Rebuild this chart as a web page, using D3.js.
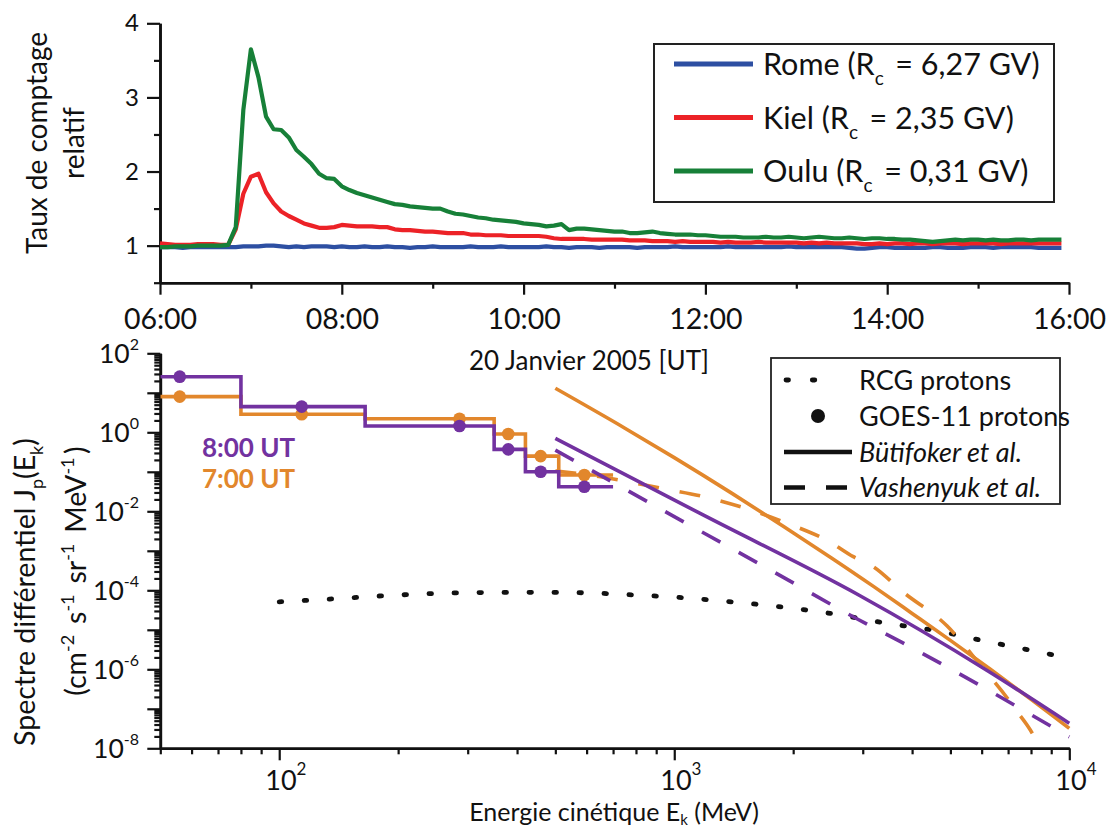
<!DOCTYPE html>
<html>
<head>
<meta charset="utf-8">
<script src="https://cdn.jsdelivr.net/npm/d3@7"></script>
<style>
  body { margin: 0; background: #fff; }
  svg { display: block; }
  text { font-family: Lato, "Open Sans", sans-serif; fill: #111; }
</style>
</head>
<body>
<svg id="chart" width="1108" height="830"></svg>
<script>
// ---------- Neutron monitor relative count rates, 5-minute samples from 06:00 UT ----------
const sampleStartHour = 6;
const sampleStepMinutes = 5;

const romeCounts = [
  0.98,0.98,0.98,0.97,0.98,0.98,0.98,0.98,0.98,0.98,
  0.98,0.99,0.99,0.99,1.00,1.00,0.99,0.98,0.99,0.98,
  0.99,0.99,0.99,0.98,0.99,0.98,0.98,0.99,0.98,0.98,
  0.99,0.98,0.98,0.97,0.98,0.98,0.99,0.98,0.98,0.98,
  0.98,0.99,0.98,0.98,0.98,0.99,0.98,0.98,0.98,0.98,
  0.98,0.99,0.98,0.98,0.97,0.98,0.98,0.98,0.97,0.98,
  0.98,0.98,0.98,0.97,0.98,0.98,0.98,0.98,0.99,0.98,
  0.98,0.98,0.98,0.98,0.98,0.99,0.98,0.98,0.98,0.98,
  0.98,0.98,0.98,0.99,0.98,0.98,0.98,0.98,0.98,0.98,
  0.98,0.97,0.96,0.96,0.97,0.98,0.98,0.97,0.97,0.97,
  0.97,0.97,0.98,0.98,0.97,0.97,0.97,0.98,0.98,0.98,
  0.97,0.98,0.98,0.98,0.98,0.98,0.97,0.97,0.97,0.97
];
const kielCounts = [
  1.03,1.02,1.01,1.01,1.01,1.02,1.02,1.02,1.01,1.01,
  1.22,1.70,1.93,1.97,1.72,1.57,1.46,1.40,1.35,1.30,
  1.27,1.24,1.24,1.25,1.28,1.27,1.26,1.26,1.26,1.25,
  1.25,1.22,1.21,1.21,1.20,1.19,1.19,1.18,1.17,1.17,
  1.17,1.15,1.15,1.14,1.14,1.14,1.13,1.13,1.13,1.13,
  1.13,1.12,1.10,1.09,1.09,1.09,1.09,1.08,1.08,1.08,
  1.08,1.08,1.07,1.07,1.07,1.06,1.06,1.06,1.05,1.06,
  1.05,1.05,1.05,1.05,1.04,1.05,1.04,1.04,1.04,1.05,
  1.04,1.04,1.04,1.04,1.04,1.03,1.04,1.03,1.04,1.03,
  1.03,1.03,1.03,1.02,1.02,1.03,1.02,1.03,1.03,1.02,
  1.03,1.03,1.02,1.03,1.03,1.03,1.02,1.03,1.03,1.03,
  1.03,1.02,1.03,1.03,1.03,1.03,1.03,1.03,1.03,1.03
];
const ouluCounts = [
  0.98,0.98,0.99,0.99,0.99,1.00,1.00,1.00,1.00,1.01,
  1.25,2.83,3.65,3.27,2.74,2.57,2.56,2.46,2.29,2.20,
  2.10,1.97,1.91,1.90,1.80,1.75,1.71,1.68,1.65,1.62,
  1.59,1.56,1.55,1.53,1.52,1.51,1.50,1.50,1.46,1.43,
  1.42,1.40,1.38,1.37,1.35,1.34,1.33,1.32,1.30,1.29,
  1.28,1.26,1.27,1.29,1.21,1.23,1.23,1.22,1.21,1.20,
  1.19,1.19,1.17,1.17,1.18,1.19,1.17,1.16,1.15,1.15,
  1.15,1.14,1.14,1.13,1.12,1.12,1.12,1.11,1.11,1.11,
  1.12,1.11,1.11,1.12,1.11,1.10,1.11,1.12,1.11,1.10,
  1.10,1.11,1.10,1.09,1.10,1.10,1.09,1.09,1.08,1.08,
  1.07,1.06,1.05,1.06,1.07,1.08,1.07,1.08,1.08,1.07,
  1.08,1.07,1.07,1.08,1.08,1.07,1.08,1.08,1.08,1.08
];
const stationNames = ["Rome", "Kiel", "Oulu"];
const stationCutoffs = ["6,27", "2,35", "0,31"];
const stationColors = ["#2d4fa2", "#ec2227", "#178038"];
const hourTicks = [6, 7, 8, 9, 10, 11, 12, 13, 14, 15, 16];
const countTicks = [1, 2, 3, 4];
const countMinorTicks = [0.5, 1.5, 2.5, 3.5];

// ---------- Differential proton spectra, 20 January 2005 ----------
// GOES-11 channel edges (MeV), channel mean energies and fluxes
const goesEdges = [50, 80, 165, 350, 420, 510, 700];
const goesEnergy = [56, 114, 286, 380, 459, 592];
const goesFlux0700 = [8.0, 2.86, 2.2, 0.906, 0.25, 0.083];
const goesFlux0800 = [25.6, 4.46, 1.44, 0.37, 0.10, 0.042];

// Galactic cosmic ray protons
const rcgEnergy = [100, 130, 200, 300, 450, 600, 800, 1050, 1400, 1900, 2550, 3400, 4600, 6100, 8300, 10000];
const rcgFlux = [5.1e-5, 5.9e-5, 7.6e-5, 8.7e-5, 8.9e-5, 8.6e-5, 7.6e-5, 6.5e-5, 5.1e-5, 3.7e-5, 2.5e-5, 1.5e-5, 9.5e-6, 5.2e-6, 2.8e-6, 1.9e-6];

// Bütifoker et al. spectra
const butiEnergy0700 = [500, 750, 1000, 1400, 1900, 2500, 3200, 4000, 5000, 6300, 8000, 10000];
const butiFlux0700 = [13, 1.27, 0.228, 0.0284, 4.0e-3, 6.6e-4, 1.24e-4, 2.6e-5, 5.4e-6, 1.02e-6, 1.74e-7, 3.2e-8];
const butiEnergy0800 = [500, 1210, 2930, 6180, 10000];
const butiFlux0800 = [0.70, 7.2e-3, 7.6e-5, 9.5e-7, 4.3e-8];

// Vashenyuk et al. spectra
const vashEnergy0700 = [500, 645, 930, 1190, 1510, 1930, 2470, 2840, 3185, 3800, 4900, 5930, 7240, 8320, 8700];
const vashFlux0700 = [0.105, 0.076, 0.038, 0.0234, 0.012, 5.0e-3, 1.7e-3, 7.1e-4, 4.0e-4, 8.9e-5, 1.26e-5, 1.35e-6, 1.1e-7, 1.26e-8, 4e-9];
const vashEnergy0800 = [500, 860, 1800, 2930, 3770, 10000];
const vashFlux0800 = [0.355, 0.017, 2.8e-4, 1.8e-5, 4.8e-6, 1.95e-8];

const purple = "#7232a0";
const orange = "#e2872c";

const svg = d3.select("#chart");

// ======================= Top panel: count rates =======================
const xTime = d3.scaleLinear().domain([6, 16]).range([160, 1069]);
const yCount = d3.scaleLinear().domain([0.5, 4]).range([282.7, 23.3]);

const topPanel = svg.append("g");

function styleAxis(g, fontSize) {
  g.select(".domain").attr("stroke", "#111").attr("stroke-width", 2.6);
  g.selectAll(".tick line").attr("stroke", "#111").attr("stroke-width", 2.2);
  g.selectAll(".tick text").attr("fill", "#111").style("font-size", fontSize + "px")
    .style("font-family", "Lato, 'Open Sans', sans-serif");
}

// x axis (hours)
topPanel.append("g")
  .attr("transform", "translate(0,282.7)")
  .call(d3.axisBottom(xTime).tickValues(hourTicks.filter(h => h % 2 === 1)).tickSize(6).tickSizeOuter(0).tickFormat(""))
  .call(g => styleAxis(g, 28.5));
topPanel.append("g")
  .attr("transform", "translate(0,282.7)")
  .call(d3.axisBottom(xTime).tickValues(hourTicks.filter(h => h % 2 === 0)).tickSize(12).tickSizeOuter(0).tickPadding(14)
    .tickFormat(h => String(h).padStart(2, "0") + ":00"))
  .call(g => styleAxis(g, 28.5));

// y axis (relative rate)
topPanel.append("g")
  .attr("transform", "translate(160,0)")
  .call(d3.axisLeft(yCount).tickValues(countMinorTicks).tickSize(6).tickSizeOuter(0).tickFormat(""))
  .call(g => styleAxis(g, 24));
topPanel.append("g")
  .attr("transform", "translate(160,0)")
  .call(d3.axisLeft(yCount).tickValues(countTicks).tickSize(13).tickSizeOuter(0).tickPadding(8).tickFormat(d3.format("d")))
  .call(g => styleAxis(g, 24));

// y axis title
topPanel.append("text")
  .attr("transform", "translate(47,143) rotate(-90)")
  .attr("text-anchor", "middle")
  .style("font-size", "28px")
  .text("Taux de comptage");
topPanel.append("text")
  .attr("transform", "translate(84,143) rotate(-90)")
  .attr("text-anchor", "middle")
  .style("font-size", "28px")
  .text("relatif");

// station curves
const countLine = d3.line()
  .x((d, i) => xTime(sampleStartHour + i * sampleStepMinutes / 60))
  .y(d => yCount(d));
const stationSeries = [romeCounts, kielCounts, ouluCounts];
[0, 1, 2].forEach(k => {
  topPanel.append("path")
    .datum(stationSeries[k])
    .attr("fill", "none")
    .attr("stroke", stationColors[k])
    .attr("stroke-width", 4.2)
    .attr("stroke-linejoin", "round")
    .attr("d", countLine);
});

// legend
const legTop = topPanel.append("g");
legTop.append("rect")
  .attr("x", 654).attr("y", 44).attr("width", 400).attr("height", 158)
  .attr("fill", "#fff").attr("stroke", "#222").attr("stroke-width", 2);
stationNames.forEach((name, k) => {
  const yy = 64 + k * 53.5;
  legTop.append("line")
    .attr("x1", 674).attr("x2", 753).attr("y1", yy).attr("y2", yy)
    .attr("stroke", stationColors[k]).attr("stroke-width", 5);
  const t = legTop.append("text")
    .attr("x", 763).attr("y", yy + 11)
    .style("font-size", "30.5px");
  t.append("tspan").text(name + " (R");
  t.append("tspan").attr("dy", 10).style("font-size", "19px").text("c");
  t.append("tspan").attr("dy", -10).text(" \u2009= " + stationCutoffs[k] + " GV)");
});

// ======================= Bottom panel: proton spectra =======================
const xE = d3.scaleLog().domain([50, 10000]).range([160.3, 1069.3]);
const yJ = d3.scaleLog().domain([1e-8, 1e2]).range([748.3, 353.3]);

const bot = svg.append("g");

const decades = d3.range(-8, 3);
const yMajor = decades.map(k => Math.pow(10, k));
const yMinor = [];
decades.slice(0, -1).forEach(k => { for (let m = 2; m <= 9; m++) yMinor.push(m * Math.pow(10, k)); });
const xMajor = [100, 1000, 10000];
const xMinor = [50, 60, 70, 80, 90, 200, 300, 400, 500, 600, 700, 800, 900,
                2000, 3000, 4000, 5000, 6000, 7000, 8000, 9000];

bot.append("g").attr("transform", "translate(160.3,0)")
  .call(d3.axisLeft(yJ).tickValues(yMinor).tickSize(6).tickSizeOuter(0).tickFormat(""))
  .call(g => styleAxis(g, 24));
bot.append("g").attr("transform", "translate(160.3,0)")
  .call(d3.axisLeft(yJ).tickValues(yMajor).tickSize(13).tickSizeOuter(0).tickFormat(""))
  .call(g => styleAxis(g, 24));
bot.append("g").attr("transform", "translate(0,748.3)")
  .call(d3.axisBottom(xE).tickValues(xMinor).tickSize(6).tickSizeOuter(0).tickFormat(""))
  .call(g => styleAxis(g, 26));
bot.append("g").attr("transform", "translate(0,748.3)")
  .call(d3.axisBottom(xE).tickValues(xMajor).tickSize(12).tickSizeOuter(0).tickFormat(""))
  .call(g => styleAxis(g, 26));

// power-of-ten labels
yMajor.filter((v, i) => decades[i] % 2 === 0).forEach(v => {
  const k = Math.round(Math.log10(v));
  const t = bot.append("text")
    .attr("x", 139).attr("y", yJ(v) + 9.5)
    .attr("text-anchor", "end")
    .style("font-size", "26.5px");
  t.append("tspan").text("10");
  t.append("tspan").attr("dy", -13).style("font-size", "16px").text(k < 0 ? "-" + (-k) : String(k));
});
xMajor.forEach(v => {
  const k = Math.round(Math.log10(v));
  const t = bot.append("text")
    .attr("x", xE(v) - 14).attr("y", 790)
    .style("font-size", "27px");
  t.append("tspan").text("10");
  t.append("tspan").attr("dy", -15).style("font-size", "17px").text(String(k));
});

// axis titles
const ttl = bot.append("text")
  .attr("x", 614).attr("y", 821)
  .attr("text-anchor", "middle")
  .style("font-size", "25px");
ttl.append("tspan").text("Energie cinétique E");
ttl.append("tspan").attr("dy", 4).style("font-size", "15px").text("k");
ttl.append("tspan").attr("dy", -4).text(" (MeV)");

const yt1 = bot.append("text")
  .attr("transform", "translate(35,592) rotate(-90)")
  .attr("text-anchor", "middle")
  .style("font-size", "28.5px");
yt1.append("tspan").text("Spectre différentiel J");
yt1.append("tspan").attr("dy", 8).style("font-size", "18px").text("p");
yt1.append("tspan").attr("dy", -8).text("(E");
yt1.append("tspan").attr("dy", 8).style("font-size", "18px").text("k");
yt1.append("tspan").attr("dy", -8).text(")");

const yt2 = bot.append("text")
  .attr("transform", "translate(86,571) rotate(-90)")
  .attr("text-anchor", "middle")
  .style("font-size", "28.5px");
[["(cm", "-2"], [" s", "-1"], [" sr", "-1"], [" MeV", "-1"]].forEach(([base, sup]) => {
  yt2.append("tspan").text(base);
  yt2.append("tspan").attr("dy", -12).style("font-size", "18px").text(sup);
  yt2.append("tspan").attr("dy", 12).text("\u2009");
});
yt2.append("tspan").text(")");

// date title
bot.append("text")
  .attr("x", 589).attr("y", 370)
  .attr("text-anchor", "middle")
  .style("font-size", "26px")
  .text("20 Janvier 2005 [UT]");

// plot clip
svg.append("defs").append("clipPath").attr("id", "plotClip")
  .append("rect").attr("x", 160.3).attr("y", 340).attr("width", 920).attr("height", 408.3);

const plot = bot.append("g").attr("clip-path", "url(#plotClip)");

const curve = d3.line().x(d => xE(d[0])).y(d => yJ(d[1])).curve(d3.curveMonotoneX);
const zip = (a, b) => a.map((v, i) => [v, b[i]]);

// RCG protons
plot.append("path")
  .datum(zip(rcgEnergy, rcgFlux))
  .attr("fill", "none").attr("stroke", "#111").attr("stroke-width", 4.8)
  .attr("stroke-linecap", "round").attr("stroke-dasharray", "2.5 22.5")
  .attr("d", curve);

function stepPoints(edges, vals) {
  const pts = vals.map((v, i) => [edges[i], v]);
  pts.push([edges[edges.length - 1], vals[vals.length - 1]]);
  return pts;
}
const stepLine = d3.line().x(d => xE(d[0])).y(d => yJ(d[1])).curve(d3.curveStepAfter);

function drawEpoch(color, flux, butiE, butiJ, vashE, vashJ) {
  plot.append("path").datum(zip(butiE, butiJ))
    .attr("fill", "none").attr("stroke", color).attr("stroke-width", 3.6).attr("d", curve);
  plot.append("path").datum(zip(vashE, vashJ))
    .attr("fill", "none").attr("stroke", color).attr("stroke-width", 3.6)
    .attr("stroke-dasharray", "21 21").attr("d", curve);
  plot.append("path").datum(stepPoints(goesEdges, flux))
    .attr("fill", "none").attr("stroke", color).attr("stroke-width", 3.6).attr("d", stepLine);
  plot.selectAll(null).data(zip(goesEnergy, flux)).enter().append("circle")
    .attr("cx", d => xE(d[0])).attr("cy", d => yJ(d[1])).attr("r", 6.3)
    .attr("fill", color);
}
drawEpoch(orange, goesFlux0700, butiEnergy0700, butiFlux0700, vashEnergy0700, vashFlux0700);
drawEpoch(purple, goesFlux0800, butiEnergy0800, butiFlux0800, vashEnergy0800, vashFlux0800);

// epoch labels
bot.append("text").attr("x", 202).attr("y", 457)
  .style("font-size", "26px").style("font-weight", "bold").style("fill", purple).text("8:00 UT");
bot.append("text").attr("x", 202).attr("y", 488)
  .style("font-size", "26px").style("font-weight", "bold").style("fill", orange).text("7:00 UT");

// legend
const legB = bot.append("g");
legB.append("rect")
  .attr("x", 771).attr("y", 358).attr("width", 289).attr("height", 146)
  .attr("fill", "#fff").attr("stroke", "#222").attr("stroke-width", 1.8);
const legRows = [380, 416, 452, 487.5];
legB.append("line").attr("x1", 786).attr("x2", 838).attr("y1", legRows[0]).attr("y2", legRows[0])
  .attr("stroke", "#111").attr("stroke-width", 4.8).attr("stroke-linecap", "round").attr("stroke-dasharray", "2.5 23.8");
legB.append("circle").attr("cx", 818).attr("cy", legRows[1]).attr("r", 7).attr("fill", "#111");
legB.append("line").attr("x1", 784).attr("x2", 852).attr("y1", legRows[2]).attr("y2", legRows[2])
  .attr("stroke", "#111").attr("stroke-width", 4.5);
legB.append("line").attr("x1", 784).attr("x2", 847).attr("y1", legRows[3]).attr("y2", legRows[3])
  .attr("stroke", "#111").attr("stroke-width", 4.5).attr("stroke-dasharray", "21 21");
const legLabels = [["RCG protons", false], ["GOES-11 protons", false], ["Bütifoker et al.", true], ["Vashenyuk et al.", true]];
legLabels.forEach(([label, ital], i) => {
  legB.append("text").attr("x", 859).attr("y", legRows[i] + 9.5)
    .style("font-size", "27px").style("font-style", ital ? "italic" : "normal")
    .text(label);
});
</script>
</body>
</html>
